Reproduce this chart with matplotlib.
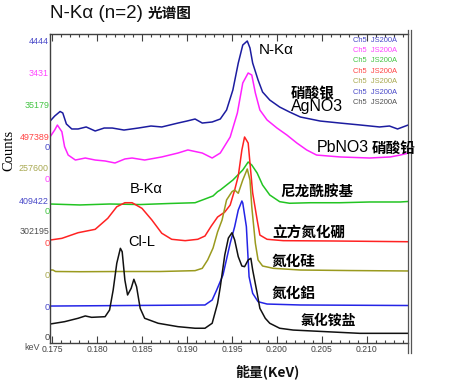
import matplotlib
matplotlib.use("Agg")
import matplotlib.pyplot as plt
from matplotlib.lines import Line2D
from matplotlib.ticker import MultipleLocator
import numpy as np

# ---------------- data (energy in keV, intensity in % of each trace's scale max) ----------------
scale_max = [4444, 3431, 35179, 497389, 257600, 409422, 302195]
series_names = ["AgNO3", "PbNO3", "Nylon", "cBN", "Si3N4", "AlN", "NH4Cl"]

agno3_x = [0.1748, 0.1753, 0.1759, 0.1762, 0.1766, 0.1772, 0.1779, 0.1788, 0.1798, 0.1808, 0.1817,
           0.1830, 0.1846, 0.1860, 0.1872, 0.1890, 0.1900, 0.1909, 0.1917, 0.1928, 0.1937, 0.1944,
           0.1951, 0.1957, 0.1962, 0.1967, 0.1970, 0.1973, 0.1979, 0.1984, 0.1992, 0.2003, 0.2014,
           0.2026, 0.2048, 0.2070, 0.2092, 0.2114, 0.2125, 0.2134, 0.2146]
agno3_y = [24.5, 29.2, 33.5, 32.1, 21.7, 17.0, 17.0, 18.9, 15.1, 17.9, 17.9,
           16.0, 17.9, 19.8, 18.9, 22.6, 24.5, 26.4, 22.6, 23.6, 26.4, 34.9,
           53.8, 79.2, 96.2, 100.0, 93.4, 79.2, 63.2, 51.9, 44.3, 37.7, 33.0,
           28.3, 24.5, 22.6, 20.8, 18.9, 19.8, 17.0, 20.8]

pbno3_x = [0.1748, 0.1753, 0.1756, 0.1761, 0.1764, 0.1768, 0.1776, 0.1787, 0.1798, 0.1809, 0.1820,
           0.1831, 0.1839, 0.1853, 0.1872, 0.1890, 0.1901, 0.1917, 0.1928, 0.1937, 0.1948, 0.1956,
           0.1962, 0.1968, 0.1972, 0.1976, 0.1981, 0.1989, 0.2000, 0.2011, 0.2022, 0.2033, 0.2044,
           0.2070, 0.2103, 0.2126, 0.2137, 0.2146]
pbno3_y = [39.9, 46.2, 50.9, 44.6, 30.5, 22.6, 17.9, 19.8, 17.9, 17.0, 15.1,
           18.9, 19.8, 17.9, 20.8, 24.5, 27.4, 24.5, 19.8, 24.5, 39.6, 62.3,
           90.6, 100.0, 98.1, 81.1, 65.1, 55.7, 48.1, 41.5, 34.0, 27.4, 22.6,
           20.8, 19.8, 20.8, 22.6, 24.5]

nylon_x = [0.1748, 0.1781, 0.1814, 0.1848, 0.1881, 0.1909, 0.1920, 0.1929, 0.1934, 0.1937, 0.1944,
           0.1951, 0.1962, 0.1968, 0.1972, 0.1978, 0.1984, 0.1992, 0.2003, 0.2014, 0.2037, 0.2070,
           0.2103, 0.2137, 0.2146]
nylon_y = [6.6, 5.7, 6.6, 6.1, 7.1, 7.8, 11.3, 14.2, 18.2, 19.8, 24.5,
           29.2, 38.7, 46.2, 43.4, 35.8, 24.5, 15.1, 8.8, 7.3, 7.8, 7.8,
           8.5, 8.5, 9.0]

cbn_x = [0.1748, 0.1761, 0.1779, 0.1798, 0.1812, 0.1822, 0.1831, 0.1839, 0.1850, 0.1861, 0.1872,
         0.1883, 0.1898, 0.1912, 0.1920, 0.1927, 0.1934, 0.1942, 0.1948, 0.1953, 0.1957, 0.1961,
         0.1964, 0.1968, 0.1970, 0.1973, 0.1978, 0.1981, 0.1989, 0.2007, 0.2062, 0.2146]
cbn_y = [2.8, 4.4, 9.7, 12.9, 23.3, 34.2, 38.0, 38.0, 32.7, 21.7, 9.2,
         3.5, 2.2, 3.5, 6.6, 16.0, 24.5, 29.2, 35.8, 50.0, 63.2, 87.7,
         100.0, 94.3, 75.5, 47.2, 21.7, 7.5, 3.5, 2.2, 1.9, 1.2]

si3n4_x = [0.1748, 0.1751, 0.1754, 0.1781, 0.1826, 0.1870, 0.1909, 0.1917, 0.1923, 0.1929, 0.1934,
           0.1939, 0.1944, 0.1950, 0.1953, 0.1957, 0.1962, 0.1967, 0.1970, 0.1972, 0.1976, 0.1979,
           0.1984, 0.1996, 0.2026, 0.2081, 0.2146]
si3n4_y = [4.7, 4.7, 3.3, 3.1, 3.3, 3.3, 4.1, 6.3, 14.2, 25.5, 40.6,
           51.9, 70.8, 78.6, 80.2, 77.1, 89.6, 100.0, 89.6, 64.4, 29.9, 14.2,
           8.5, 6.3, 4.7, 4.2, 3.8]

aln_x = [0.1748, 0.1920, 0.1928, 0.1933, 0.1940, 0.1948, 0.1953, 0.1957, 0.1961, 0.1962, 0.1966,
         0.1969, 0.1973, 0.1979, 0.1989, 0.2026, 0.2146]
aln_y = [0.9, 1.9, 6.6, 16.0, 30.2, 60.1, 75.8, 91.5, 100.0, 98.1, 75.8,
         28.6, 12.9, 5.0, 2.8, 1.9, 1.4]

nh4cl_x = [0.1748, 0.1764, 0.1779, 0.1787, 0.1794, 0.1809, 0.1814, 0.1818, 0.1822, 0.1826, 0.1828,
           0.1831, 0.1834, 0.1838, 0.1841, 0.1844, 0.1848, 0.1853, 0.1868, 0.1890, 0.1909, 0.1920,
           0.1928, 0.1934, 0.1937, 0.1942, 0.1946, 0.1950, 0.1953, 0.1957, 0.1961, 0.1964, 0.1968,
           0.1971, 0.1973, 0.1978, 0.1981, 0.1987, 0.1992, 0.2003, 0.2018, 0.2056, 0.2092, 0.2146]
nh4cl_y = [13.2, 15.4, 18.6, 20.8, 19.5, 20.1, 26.4, 45.3, 70.5, 84.6, 81.4,
           54.7, 40.6, 46.9, 55.4, 48.4, 28.0, 18.6, 13.9, 10.7, 9.2, 9.2,
           13.9, 32.7, 48.1, 78.3, 94.3, 99.3, 92.5, 76.7, 67.9, 67.3, 73.6,
           75.2, 64.2, 42.2, 28.0, 18.6, 13.9, 9.2, 7.5, 5.9, 4.4, 4.4]

xticks = [0.175, 0.180, 0.185, 0.190, 0.195, 0.200, 0.205, 0.210]
xtick_labels = ["0.175", "0.180", "0.185", "0.190", "0.195", "0.200", "0.205", "0.210"]
legend_text = "Ch5  JS200A"

# ---------------- styling / layout ----------------
W, H = 450, 387
CJK = ["Noto Sans CJK SC", "DejaVu Sans"]
LAT = ["Liberation Sans", "DejaVu Sans"]

line_colors = ["#1c1ca0", "#ff22ff", "#22c422", "#ff2222", "#9a9a1e", "#2424e6", "#111111"]
label_colors = ["#4848c8", "#ff44ff", "#44c444", "#ff4444", "#a8a850", "#4848c8", "#505050"]
baselines = [196, 164, 132, 100, 68, 36, 5]   # vertical offset of each trace (axis units)
span = 106                                      # height of full scale for each trace

fig = plt.figure(figsize=(W / 100, H / 100), dpi=100)
ax = fig.add_axes([50 / W, 44 / H, 358 / W, 309 / H])
ax.set_xlim(0.17478, 0.21456)
ax.set_ylim(0, 309)

xs = [agno3_x, pbno3_x, nylon_x, cbn_x, si3n4_x, aln_x, nh4cl_x]
ys = [agno3_y, pbno3_y, nylon_y, cbn_y, si3n4_y, aln_y, nh4cl_y]
for i in range(7):
    counts = np.array(ys[i]) / 100.0 * scale_max[i]
    ax.plot(xs[i], baselines[i] + counts / scale_max[i] * span,
            color=line_colors[i], lw=1.1, solid_joinstyle="round")

# spines and ticks
for s in ["left", "bottom", "top"]:
    ax.spines[s].set_color("#404040")
    ax.spines[s].set_linewidth(1.0)
ax.spines["right"].set_visible(False)
ax.set_yticks([])
ax.set_xticks(xticks)
ax.set_xticklabels(xtick_labels, family=LAT)
ax.xaxis.set_minor_locator(MultipleLocator(0.001))
ax.tick_params(axis="x", which="both", direction="in", top=True, bottom=True,
               labelsize=6.2, labelcolor="#404040", color="#404040", pad=1.5)
ax.tick_params(axis="x", which="major", length=5, width=0.8)
ax.tick_params(axis="x", which="minor", length=2.5, width=0.8)

# right double border
for px in (408, 410.5):
    fig.add_artist(Line2D([px / W, px / W], [1 - 30 / H, 1 - 353 / H],
                          color="#555555", lw=0.9, transform=fig.transFigure))

def fx(px):
    return px / W

def fy(py):
    return 1 - py / H

# left scale labels (max and zero of each trace)
for i in range(7):
    top_py = 343 - (baselines[i] + span)
    zero_py = 343 - baselines[i]
    fig.text(fx(49), fy(top_py), str(scale_max[i]), color=label_colors[i],
             fontsize=6.4, family=LAT, ha="right", va="center")
    fig.text(fx(49.5), fy(zero_py), "0", color=label_colors[i] if i < 6 else "#404040",
             fontsize=6.8, family=LAT, ha="right", va="center")

fig.text(fx(32), fy(347), "keV", color="#505050", fontsize=6.5, family=LAT,
         ha="center", va="center")

# title
fig.text(fx(50), fy(13), "N-K\u03b1 (n=2)", fontsize=13.5, family=LAT,
         ha="left", va="center", color="#111111")
fig.text(fx(148), fy(13), "光谱图", fontsize=10.5, family=CJK, weight="bold",
         ha="left", va="center", color="#111111")

# axis labels
fig.text(fx(9), fy(150), "Counts", rotation=90, fontsize=10.5,
         family=["Liberation Serif", "DejaVu Serif"], ha="center", va="center")
fig.text(fx(267), fy(372), "能量(KeV)", fontsize=10, family=CJK, weight="bold",
         ha="center", va="center", color="#111111")

# legend-like channel labels
for i in range(7):
    fig.text(fx(353), fy(40 + i * 10.4), legend_text, color=label_colors[i],
             fontsize=5.4, family=LAT, ha="left", va="center")

# peak / sample annotations (figure pixel positions)
fig.text(fx(259), fy(50), "N-K\u03b1", fontsize=11, family=LAT, ha="left", va="center")
fig.text(fx(291), fy(93), "硝酸银", fontsize=10.5, family=CJK, weight="bold", ha="left", va="center")
fig.text(fx(291), fy(107), "AgNO3", fontsize=11.5, family=LAT, ha="left", va="center")
fig.text(fx(317), fy(148), "PbNO3", fontsize=11.5, family=LAT, ha="left", va="center")
fig.text(fx(372), fy(148), "硝酸铅", fontsize=10.5, family=CJK, weight="bold", ha="left", va="center")
fig.text(fx(130), fy(189), "B-K\u03b1", fontsize=10.5, family=LAT, ha="left", va="center")
fig.text(fx(128), fy(242), "Cl-L", fontsize=10.5, family=LAT, ha="left", va="center")
fig.text(fx(280), fy(191), "尼龙酰胺基", fontsize=10.5, family=CJK, weight="bold", ha="left", va="center")
fig.text(fx(272), fy(232), "立方氮化硼", fontsize=10.5, family=CJK, weight="bold", ha="left", va="center")
fig.text(fx(272), fy(261), "氮化硅", fontsize=10.5, family=CJK, weight="bold", ha="left", va="center")
fig.text(fx(272), fy(293), "氮化鋁", fontsize=10.5, family=CJK, weight="bold", ha="left", va="center")
fig.text(fx(300), fy(321), "氯化铵盐", fontsize=10, family=CJK, weight="bold", ha="left", va="center")

fig.savefig("out.png", dpi=100)
